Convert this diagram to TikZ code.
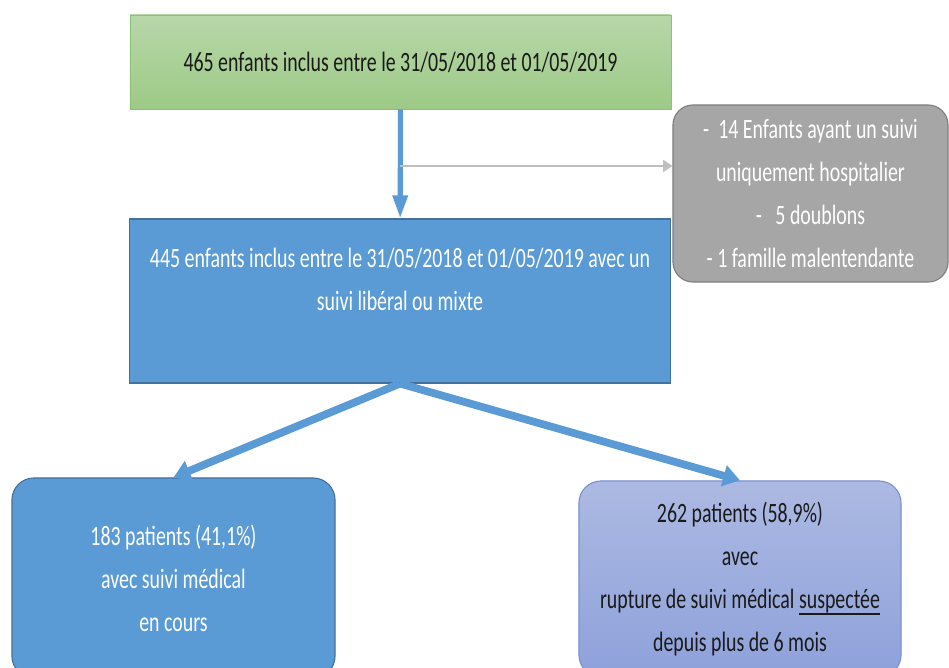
\documentclass[tikz,border=0pt]{standalone}
\usepackage{fontspec}
\setmainfont{Carlito}[FakeStretch=0.71]
\usetikzlibrary{arrows.meta}

\definecolor{vertA}{HTML}{B7D7A9}
\definecolor{vertB}{HTML}{9DCA86}
\definecolor{vertC}{HTML}{8FC172}
\definecolor{bleu}{HTML}{5B9BD5}
\definecolor{bleuC}{HTML}{41719C}
\definecolor{gris}{HTML}{A6A6A6}
\definecolor{grisC}{HTML}{7F7F7F}
\definecolor{grisL}{HTML}{BFBFBF}
\definecolor{lavA}{HTML}{ACB9E2}
\definecolor{lavB}{HTML}{8EA1DA}
\definecolor{lavC}{HTML}{7F93D2}
\definecolor{encre}{HTML}{1A1A1A}

\newcommand\souligne[1]{\setbox0\hbox{#1}\rlap{\rule[-4.5pt]{\wd0}{1.6pt}}\box0}

\begin{document}
\begin{tikzpicture}[x=0.025cm, y=-0.025cm,
	every node/.style={inner sep=0pt, align=center, font=\fontsize{19.9}{30.6}\selectfont},
	boite/.style={draw=bleuC, line width=0.8pt, fill=bleu, text=white},
	arrondi/.style={boite, rounded corners=0.55cm},
	fleche/.style={draw=bleu, line width=5.5pt, -{Triangle[length=0.42cm, width=0.52cm]}}]
		\useasboundingbox (0,0) rectangle (949,668);
		\clip (0,0) rectangle (949,668);

		\path (400.5,62) node[draw=vertC, line width=0.6pt, top color=vertA, bottom color=vertB, text=encre,
			minimum width=13.525cm, minimum height=2.35cm] (inclus) {465 enfants inclus entre le 31/05/2018 et 01/05/2019}
		(810.5,193.5) node[draw=grisC, line width=0.8pt, fill=gris, text=white, rounded corners=0.5cm,
			minimum width=6.875cm, minimum height=4.425cm] (exclus) {-\ \ 14 Enfants ayant un suivi\\ uniquement hospitalier\\ -\ \ \ 5 doublons\\ - 1 famille malentendante}
		(400,301) node[boite, minimum width=13.5cm, minimum height=4.1cm] (liberal) {445 enfants inclus entre le 31/05/2018 et 01/05/2019 avec un\\ suivi libéral ou mixte\\ \mbox{}}
		(173.5,578) node[arrondi, minimum width=8.075cm, minimum height=5cm] (encours) {183 patients (41,1\%)\\ avec suivi médical\\ en cours}
		(740,579) node[arrondi, draw=lavC, top color=lavA, bottom color=lavB, text=encre,
			minimum width=8.05cm, minimum height=4.9cm] (rupture) {262 patients (58,9\%)\\ avec\\ rupture de suivi médical \souligne{suspectée}\\ depuis plus de 6 mois};

		\coordinate (tri) at (400,166);

		\draw[draw=bleu, line width=3.6pt, -{Triangle[length=0.575cm, width=0.36cm]}] (inclus) -- (liberal);
		\draw[draw=grisL, line width=1.2pt, -{Triangle[length=0.23cm, width=0.3cm]}] (tri) -- (tri -| exclus.west);
		\draw[fleche] (liberal.south) -- (encours.north);
		\draw[fleche] (liberal.south) -- (rupture.north);

	\end{tikzpicture}
\end{document}
